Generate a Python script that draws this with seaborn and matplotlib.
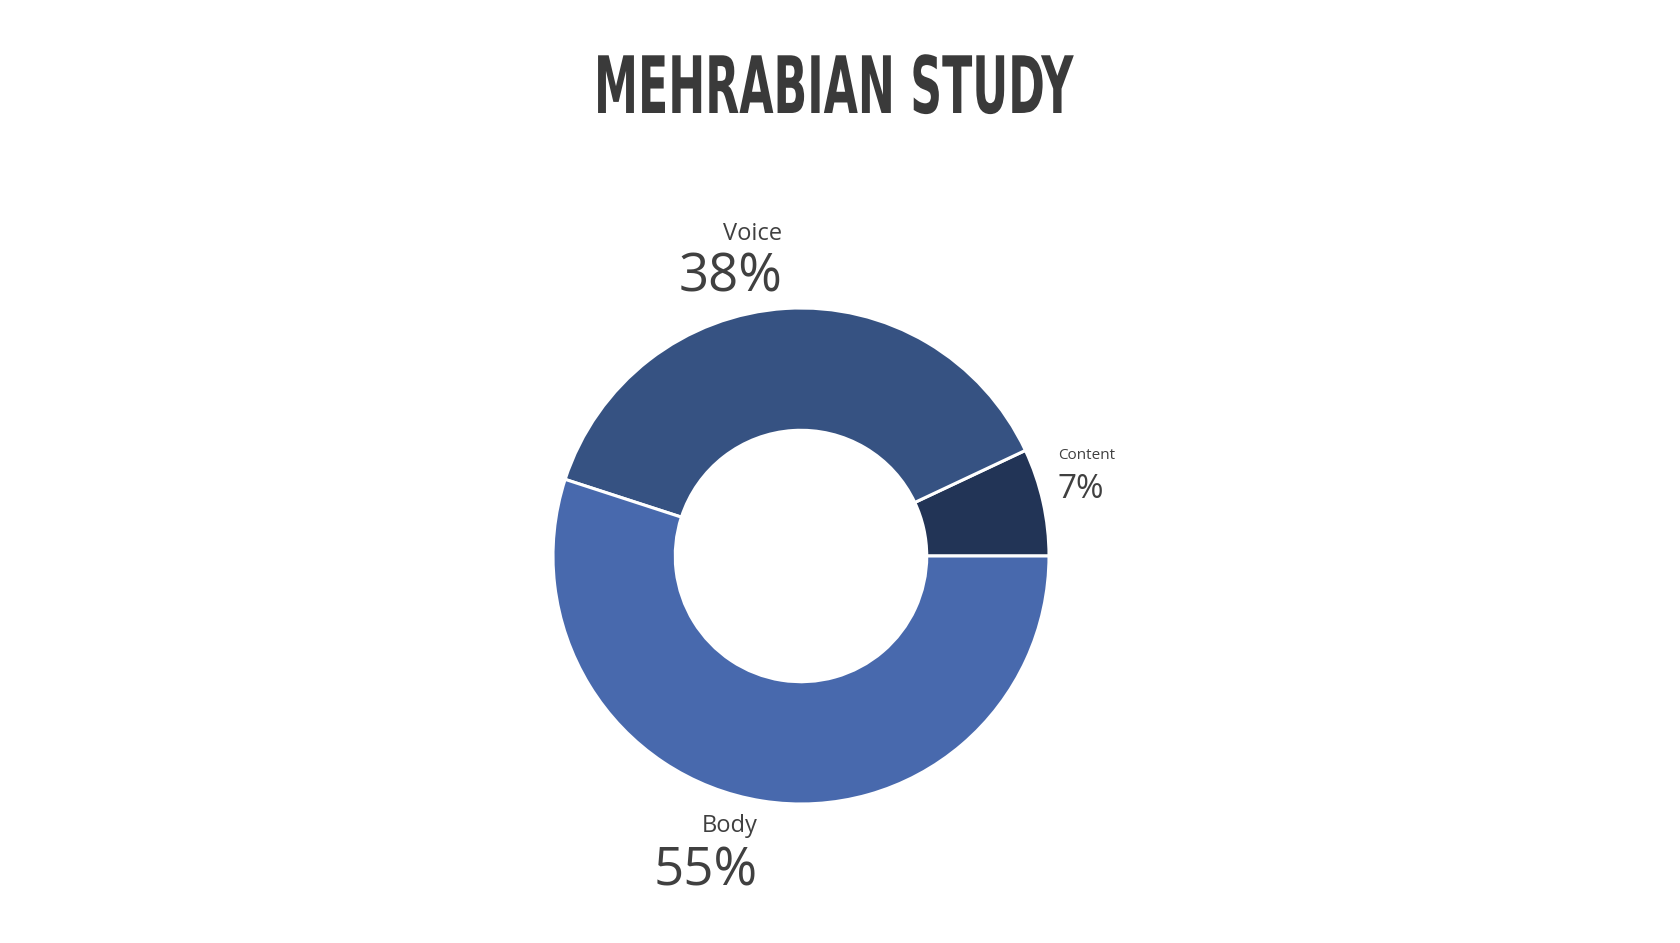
import matplotlib
matplotlib.use('Agg')
import matplotlib.pyplot as plt
import seaborn as sns
from matplotlib.patheffects import AbstractPathEffect
from matplotlib.transforms import Affine2D

# 数据
labels = ['Content', 'Voice', 'Body']
shares = [7, 38, 55]
colors = ['#223456', '#365282', '#4869ad']


class Squeeze(AbstractPathEffect):
    # 横向压缩文字, 模拟窄体标题字体
    def __init__(self, sx):
        super().__init__()
        self.sx = sx

    def draw_path(self, renderer, gc, tpath, affine, rgbFace=None):
        renderer.draw_path(gc, tpath, Affine2D().scale(self.sx, 1) + affine, rgbFace)


sns.set_theme(style='white')
plt.rcParams['font.family'] = ['Open Sans', 'DejaVu Sans']

fig = plt.figure(figsize=(16.8, 9.43), dpi=100)
fig.patch.set_facecolor('white')

# 环形图区域: 中心 (801, 556), 半径 248 px
cx, cy, r = 801, 556, 248
ax = fig.add_axes([(cx - r) / 1680, (943 - cy - r) / 943, 2 * r / 1680, 2 * r / 943])
ax.pie(shares, colors=colors, startangle=0, counterclock=True, radius=1,
       wedgeprops=dict(width=0.493, edgecolor='white', linewidth=2.2))
ax.set_xlim(-1, 1)
ax.set_ylim(-1, 1)
ax.set_aspect('equal')
ax.axis('off')

txt = '#404040'
# 标签位置 (数据坐标)
label_pos = {
    'Voice': (-0.075, 1.274, 1.065, 'right', 17, 38),
    'Content': (1.036, 0.391, 0.234, 'left', 11, 24),
    'Body': (-0.173, -1.113, -1.327, 'right', 17, 38),
}
for name, val in zip(labels, shares):
    x, y1, y2, ha, s1, s2 = label_pos[name]
    ax.text(x, y1, name, ha=ha, va='baseline', fontsize=s1, color=txt, clip_on=False)
    ax.text(x, y2, f'{val}%', ha=ha, va='baseline', fontsize=s2, color=txt, clip_on=False)

title = fig.text(594 / 1680, 1 - 113 / 943, 'MEHRABIAN STUDY', ha='left', va='baseline',
                 fontsize=57, fontweight='bold', color='#3a3a3a',
                 family=['DejaVu Sans'], fontstretch='condensed')
fig.canvas.draw()
w = title.get_window_extent().width
title.set_path_effects([Squeeze(479 / w)])

fig.savefig('out.png', dpi=100, facecolor='white')
